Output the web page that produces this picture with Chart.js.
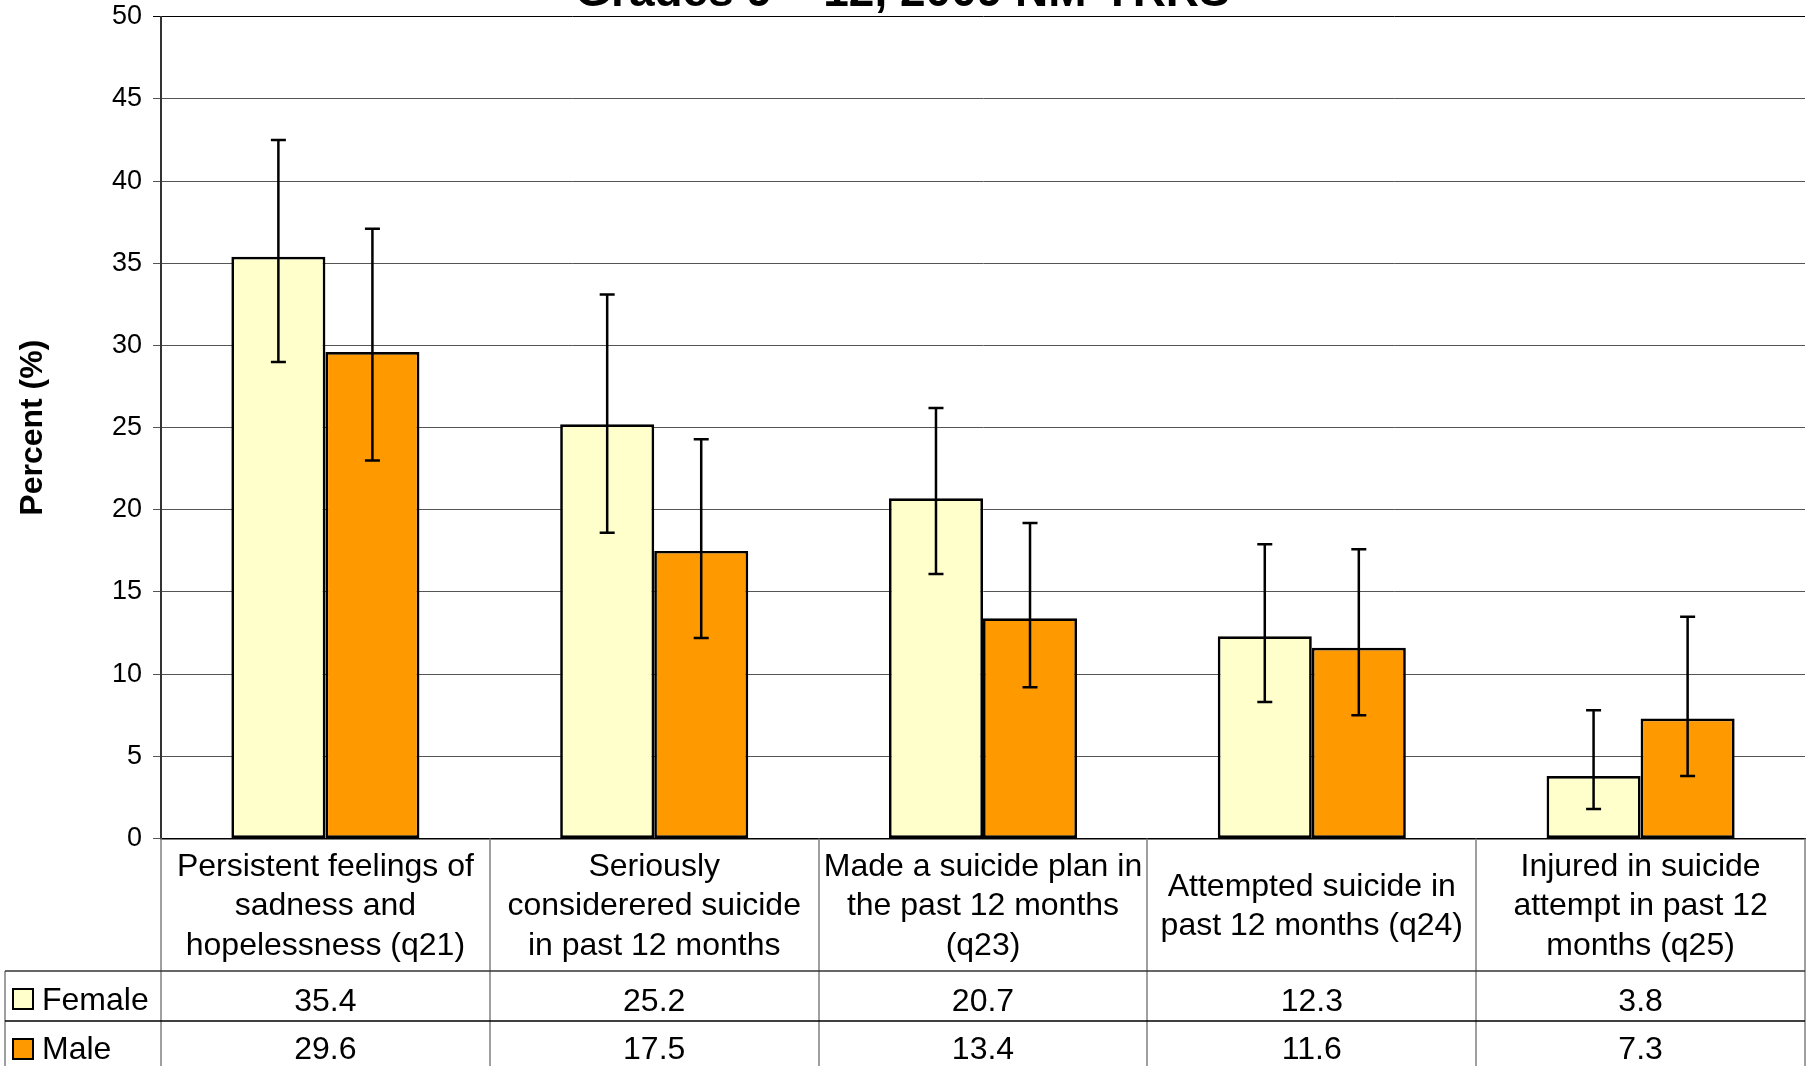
<!DOCTYPE html>
<html><head><meta charset="utf-8">
<script src="https://cdn.jsdelivr.net/npm/chart.js@4/dist/chart.umd.min.js"></script>
<style>
html,body{margin:0;padding:0;overflow:hidden;background:#fff;width:1813px;height:1066px;}
#wrap{position:absolute;left:0;top:-60px;width:1813px;height:1140px;}
canvas{display:block;}
</style></head><body>
<div id="wrap"><canvas id="c" width="1813" height="1140"></canvas></div>
<script>
const titleText = 'Grades 9 – 12, 2009 NM-YRRS';
const yAxisTitle = 'Percent (%)';
const categories = [
  ['Persistent feelings of', 'sadness and', 'hopelessness (q21)'],
  ['Seriously', 'considerered suicide', 'in past 12 months'],
  ['Made a suicide plan in', 'the past 12 months', '(q23)'],
  ['Attempted suicide in', 'past 12 months (q24)'],
  ['Injured in suicide', 'attempt in past 12', 'months (q25)']
];
const seriesNames = ['Female', 'Male'];
const femaleValues = [35.4, 25.2, 20.7, 12.3, 3.8];
const maleValues = [29.6, 17.5, 13.4, 11.6, 7.3];
const femaleLow = [29.0, 18.6, 16.1, 8.3, 1.8];
const femaleHigh = [42.5, 33.1, 26.2, 17.9, 7.8];
const maleLow = [23.0, 12.2, 9.2, 7.5, 3.8];
const maleHigh = [37.1, 24.3, 19.2, 17.6, 13.5];
const yMin = 0, yMax = 50, yStep = 5;
const seriesColors = ['#FFFFCC', '#FF9900'];

const FONT = "'Liberation Sans', Arial, sans-serif";
const errorSets = [[femaleLow, femaleHigh], [maleLow, maleHigh]];
const seriesValues = [femaleValues, maleValues];

const errorBarPlugin = {
  id: 'errorBars',
  afterDatasetsDraw(chart) {
    const ctx = chart.ctx, y = chart.scales.y;
    ctx.save();
    ctx.strokeStyle = '#000';
    ctx.lineWidth = 2.5;
    chart.data.datasets.forEach((ds, i) => {
      const meta = chart.getDatasetMeta(i);
      meta.data.forEach((bar, j) => {
        const x = bar.x;
        const yl = y.getPixelForValue(errorSets[i][0][j]);
        const yh = y.getPixelForValue(errorSets[i][1][j]);
        ctx.beginPath();
        ctx.moveTo(x, yl); ctx.lineTo(x, yh);
        ctx.moveTo(x - 7.5, yh); ctx.lineTo(x + 7.5, yh);
        ctx.moveTo(x - 7.5, yl); ctx.lineTo(x + 7.5, yl);
        ctx.stroke();
      });
    });
    ctx.restore();
  }
};

const tablePlugin = {
  id: 'dataTable',
  afterDraw(chart) {
    const ctx = chart.ctx, xs = chart.scales.x, area = chart.chartArea;
    const n = categories.length;
    const cw = (area.right - area.left) / n;
    const tableTop = xs.bottom;
    const rowH = 50;
    const baseOff = [39, 37.5];
    const bottom = chart.height;
    ctx.save();
    ctx.strokeStyle = '#808080';
    ctx.lineWidth = 1.5;
    ctx.beginPath();
    for (let k = 0; k <= n; k++) {
      const x = Math.round(area.left + k * cw);
      ctx.moveTo(x, area.bottom); ctx.lineTo(x, bottom);
    }
    ctx.moveTo(5, tableTop); ctx.lineTo(5, bottom);
    ctx.stroke();
    ctx.strokeStyle = '#333';
    ctx.beginPath();
    ctx.moveTo(5, tableTop); ctx.lineTo(area.right, tableTop);
    ctx.stroke();
    ctx.strokeStyle = '#000';
    ctx.beginPath();
    ctx.moveTo(5, tableTop + rowH); ctx.lineTo(area.right, tableTop + rowH);
    ctx.stroke();
    ctx.font = '32px ' + FONT;
    ctx.textBaseline = 'alphabetic';
    seriesNames.forEach((name, r) => {
      const rt = tableTop + r * rowH;
      ctx.fillStyle = seriesColors[r];
      ctx.fillRect(13, rt + 18, 20, 20);
      ctx.strokeStyle = '#000';
      ctx.lineWidth = 2;
      ctx.strokeRect(13, rt + 18, 20, 20);
      ctx.fillStyle = '#000';
      ctx.textAlign = 'left';
      ctx.fillText(name, 42, rt + baseOff[r]);
      ctx.textAlign = 'center';
      seriesValues[r].forEach((v, j) => {
        ctx.fillText(v.toFixed(1), xs.getPixelForValue(j), rt + baseOff[r] + 0.5);
      });
    });
    ctx.restore();
  }
};

new Chart(document.getElementById('c'), {
  type: 'bar',
  data: {
    labels: categories,
    datasets: seriesNames.map((name, i) => ({
      label: name,
      data: seriesValues[i],
      backgroundColor: seriesColors[i],
      borderColor: '#000',
      borderWidth: 2.7,
      borderSkipped: false,
      categoryPercentage: 0.572,
      barPercentage: 1.0
    }))
  },
  options: {
    responsive: false,
    animation: false,
    devicePixelRatio: 1,
    layout: { padding: { left: 0, right: 8, top: 0, bottom: 109 } },
    plugins: {
      legend: { display: false },
      tooltip: { enabled: false },
      title: {
        display: true,
        text: titleText,
        color: '#000',
        font: { family: FONT, size: 46, weight: 'bold', lineHeight: 0.8 },
        padding: { top: 35, bottom: 5 }
      }
    },
    scales: {
      x: {
        grid: { display: false, drawTicks: false },
        border: { display: true, color: '#000', width: 1.5 },
        ticks: {
          color: '#000',
          font: { family: FONT, size: 32, lineHeight: 1.23 },
          maxRotation: 0, minRotation: 0, autoSkip: false,
          padding: 28.5, crossAlign: 'center'
        },
        afterFit(s) { s.height = 132.5; }
      },
      y: {
        min: yMin, max: yMax,
        ticks: { stepSize: yStep, color: '#000', font: { family: FONT, size: 27 }, padding: 11 },
        grid: {
          color: (c) => (c.tick && c.tick.value === yMax) ? '#000' : '#555',
          lineWidth: 1, tickLength: 8, drawTicks: true
        },
        border: { display: true, color: '#333', width: 2 },
        title: {
          display: true, text: yAxisTitle, color: '#000',
          font: { family: FONT, size: 32, weight: 'bold' },
          padding: { top: 14, bottom: 0 }
        },
        afterFit(s) { s.width = 161; }
      }
    }
  },
  plugins: [errorBarPlugin, tablePlugin]
});
</script>
</body></html>
